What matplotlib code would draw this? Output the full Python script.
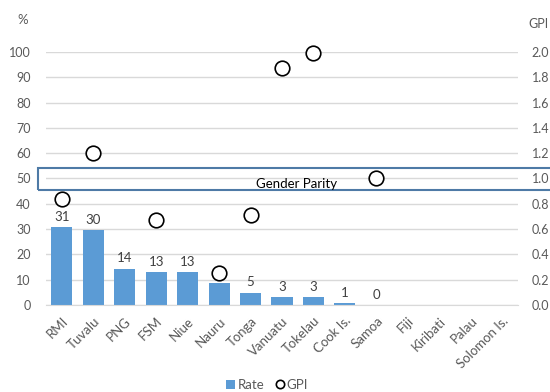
import matplotlib
matplotlib.use("Agg")
import matplotlib.pyplot as plt
import matplotlib.transforms as mtransforms
from matplotlib.patches import Rectangle
from matplotlib.lines import Line2D
from matplotlib.patches import Patch

plt.rcParams['font.family'] = ['Lato', 'DejaVu Sans']

countries = ["RMI", "Tuvalu", "PNG", "FSM", "Niue", "Nauru", "Tonga", "Vanuatu",
             "Tokelau", "Cook Is.", "Samoa", "Fiji", "Kiribati", "Palau", "Solomon Is."]
rate = [30.8, 29.6, 14.4, 13.0, 13.0, 8.6, 4.9, 3.3, 3.3, 0.7, 0.0, None, None, None, None]
gpi = [0.84, 1.20, None, 0.67, None, 0.25, 0.71, 1.87, 1.99, None, 1.00, None, None, None, None]

rate_ticks = [0, 10, 20, 30, 40, 50, 60, 70, 80, 90, 100]
gpi_ticks = [0.0, 0.2, 0.4, 0.6, 0.8, 1.0, 1.2, 1.4, 1.6, 1.8, 2.0]
parity_band = (0.91, 1.083)

BLUE = "#5b9bd5"
GRID = "#d9d9d9"
TXT = "#595959"

fig = plt.figure(figsize=(5.5, 3.92), dpi=100)
ax = fig.add_axes([46 / 550, 1 - 305 / 392, (518 - 46) / 550, (305 - 52) / 392])
ax2 = ax.twinx()

x = list(range(len(countries)))
bx = [i for i, v in zip(x, rate) if v is not None]
bv = [v for v in rate if v is not None]
bars = ax.bar(bx, bv, width=0.67, color=BLUE, zorder=2)
for xi, v in zip(bx, bv):
    ax.text(xi, v + 4.0, f"{round(v):d}", ha="center", va="center",
            fontsize=9.5, color="#404040", zorder=4)

ax.set_xlim(-0.5, len(countries) - 0.5)
ax.set_ylim(0, 100)
ax.set_yticks(rate_ticks)
ax.set_yticklabels([str(t) for t in rate_ticks])
ax.grid(axis="y", color=GRID, linewidth=1.0, zorder=0)
ax.set_axisbelow(True)
ax.tick_params(axis="y", length=0, pad=11, labelsize=9, labelcolor=TXT)
ax.tick_params(axis="x", length=0, pad=7, labelsize=9.5, labelcolor=TXT)
ax.set_xticks(x)
ax.set_xticklabels(countries, rotation=45, ha="right", rotation_mode="anchor")
for s in ["top", "right", "left"]:
    ax.spines[s].set_visible(False)
ax.spines["bottom"].set_color(GRID)

gx = [i for i, v in zip(x, gpi) if v is not None]
gv = [v for v in gpi if v is not None]
ax2.plot(gx, gv, linestyle="none", marker="o", markersize=10.5,
         markerfacecolor="white", markeredgecolor="black", markeredgewidth=1.2,
         clip_on=False, zorder=5)
ax2.set_ylim(0, 2)
ax2.set_yticks(gpi_ticks)
ax2.set_yticklabels([f"{t:.1f}" for t in gpi_ticks])
ax2.tick_params(axis="y", length=0, pad=10, labelsize=9, labelcolor=TXT)
for s in ["top", "right", "left", "bottom"]:
    ax2.spines[s].set_visible(False)

# parity band box spanning the figure width
trans = mtransforms.blended_transform_factory(fig.transFigure, ax2.transData)
band = Rectangle((38 / 550, parity_band[0]), 1.0, parity_band[1] - parity_band[0],
                 transform=trans, fill=False, edgecolor="#4e7aa6", linewidth=1.5,
                 clip_on=False, zorder=3)
ax2.add_patch(band)
ax2.text(297 / 550, 0.955, "Gender Parity", transform=trans, ha="center",
         va="center", fontsize=9.5, color="black", zorder=4)

fig.text(23 / 550, 1 - 20 / 392, "%", ha="center", va="center", fontsize=9.5, color=TXT)
fig.text(538 / 550, 1 - 24 / 392, "GPI", ha="center", va="center", fontsize=9, color=TXT)

handles = [Patch(facecolor=BLUE, edgecolor="none", label="Rate"),
           Line2D([], [], linestyle="none", marker="o", markersize=6,
                  markerfacecolor="white", markeredgecolor="black",
                  markeredgewidth=1.2, label="GPI")]
fig.legend(handles=handles, loc="center", bbox_to_anchor=(267 / 550, 1 - 385 / 392),
           ncol=2, frameon=False, fontsize=9.5, handlelength=0.7, handleheight=0.7,
           handletextpad=0.2, columnspacing=0.8, labelcolor=TXT)

fig.savefig("out.png", dpi=100)
